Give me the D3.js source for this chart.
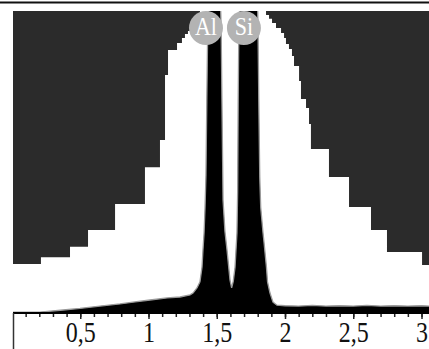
<!DOCTYPE html>
<html>
<head>
<meta charset="utf-8">
<script src="https://cdn.jsdelivr.net/npm/d3@7"></script>
<style>
  html, body { margin: 0; padding: 0; background: #fff; }
  svg { display: block; }
  text { font-family: "Liberation Serif", "Times New Roman", serif; }
</style>
</head>
<body>
<svg id="chart" width="429" height="349"></svg>
<script>
// Energy axis, keV
const xTickValues = [0.5, 1, 1.5, 2, 2.5, 3];
const xMinorTicks = d3.range(1, 31).map(i => i / 10);

// Stepped background envelope: bin edges (keV) and relative heights
const stepEdges = [0, 0.212, 0.425, 0.557, 0.755, 0.974, 1.084, 1.121, 1.143, 1.209,
  1.245, 1.267, 1.289, 1.326, 1.348, 1.377, 1.861, 1.883, 1.905, 1.934, 1.971,
  1.993, 2.007, 2.029, 2.051, 2.066, 2.103, 2.117, 2.154, 2.176, 2.190, 2.322,
  2.469, 2.630, 2.747, 3.004, 3.06];
const stepHeights = [16.2, 18.5, 21.9, 27.5, 36.1, 48.3, 57.3, 78.8, 87.1, 89.4,
  91.1, 92.4, 93.4, 94.7, 97.7, 104, 98.7, 97.4, 96.0, 94.4, 92.7, 91.1, 89.1,
  87.4, 85.1, 81.8, 76.8, 70.9, 67.9, 62.6, 54.3, 45.0, 35.1, 27.5, 20.2, 15.9];

// EDS spectrum: energy (keV) and relative counts
const specEnergy = [0, 0.205, 0.374, 0.498, 0.645, 0.791, 0.886, 1.011, 1.136, 1.231,
  1.304, 1.326, 1.355, 1.377, 1.392, 1.399, 1.407, 1.414, 1.421, 1.427, 1.434,
  1.452, 1.486, 1.518, 1.532, 1.538, 1.543, 1.546, 1.560, 1.575, 1.597, 1.609,
  1.621, 1.634, 1.648, 1.653, 1.657, 1.662, 1.690, 1.740, 1.790, 1.802, 1.808,
  1.815, 1.822, 1.839, 1.846, 1.864, 1.872, 1.890, 1.912, 1.941, 2.0, 2.1, 2.2,
  2.3, 2.4, 2.5, 2.6, 2.7, 2.8, 2.9, 3.0, 3.06];
const specCounts = [0.3, 0.3, 1.0, 1.5, 2.3, 3.0, 3.6, 4.3, 5.0, 5.3,
  6.0, 6.6, 8.3, 10.3, 15.2, 20.9, 26.5, 34.8, 45.7, 70, 95,
  118, 132, 118, 95, 70, 50, 37.4, 27, 20.9, 10.9, 8.3,
  10.5, 15.2, 26.5, 40, 70, 95, 125, 140, 125, 95, 70,
  45, 35, 26.5, 23.5, 15.2, 10.3, 6.6, 3.6, 2.6, 2.4, 2.3, 2.5,
  2.3, 2.4, 2.3, 2.5, 2.3, 2.4, 2.3, 2.4, 2.3];

// Element markers
const peakLabels = ["Al", "Si"];
const peakLabelEnergy = [1.421, 1.699];

const svg = d3.select("#chart");
const plot = { left: 13, right: 429, top: 11, bottom: 313 };
const serif = '"Liberation Serif", "Times New Roman", serif';

const x = d3.scaleLinear().domain([0, 3.06]).range([12, 429.7]);
const y = d3.scaleLinear().domain([0, 100]).range([plot.bottom, plot.top]);

const locale = d3.formatLocale({ decimal: ",", thousands: " ", grouping: [3], currency: ["", ""] });
const fmt = locale.format("~g");

svg.append("defs").append("clipPath").attr("id", "plot-clip")
  .append("rect")
  .attr("x", plot.left).attr("y", plot.top)
  .attr("width", plot.right - plot.left).attr("height", plot.bottom - plot.top);

// top rule
svg.append("line")
  .attr("x1", 0).attr("x2", 429).attr("y1", 2.5).attr("y2", 2.5)
  .attr("stroke", "#111").attr("stroke-width", 2);

const g = svg.append("g").attr("clip-path", "url(#plot-clip)");

// dark field
g.append("rect")
  .attr("x", plot.left).attr("y", plot.top)
  .attr("width", plot.right - plot.left).attr("height", plot.bottom - plot.top)
  .attr("fill", "#2b2b2b");

// stepped envelope
const steps = stepHeights.map((h, i) => ({ e: stepEdges[i], h }));
steps.push({ e: stepEdges[stepEdges.length - 1], h: stepHeights[stepHeights.length - 1] });
g.append("path")
  .datum(steps)
  .attr("fill", "#ffffff")
  .attr("d", d3.area().curve(d3.curveStepAfter)
    .x(d => x(d.e)).y0(y(0)).y1(d => y(d.h)));

// spectrum
const spec = specEnergy.map((e, i) => ({ e, c: specCounts[i] }));
g.append("path")
  .datum(spec)
  .attr("fill", "#000")
  .attr("d", d3.area().x(d => x(d.e)).y0(y(0)).y1(d => y(d.c)));
g.append("path")
  .datum(spec)
  .attr("fill", "none")
  .attr("stroke", "#9a9a9a")
  .attr("stroke-width", 1.3)
  .attr("d", d3.line().x(d => x(d.e)).y(d => y(d.c)));

// axis: minor ticks
const minorAxis = svg.append("g")
  .attr("transform", `translate(0,${plot.bottom})`)
  .call(d3.axisBottom(x).tickValues(xMinorTicks).tickSize(4).tickSizeOuter(0).tickFormat(""));
minorAxis.select(".domain").remove();
minorAxis.selectAll(".tick line").attr("stroke", "#222").attr("stroke-width", 1.5);

// axis: major ticks with labels (glyphs drawn slightly tall)
const majorAxis = svg.append("g")
  .attr("transform", `translate(0,${plot.bottom})`)
  .call(d3.axisBottom(x).tickValues(xTickValues).tickSize(6).tickSizeOuter(0).tickFormat(fmt));
majorAxis.select(".domain").remove();
majorAxis.selectAll(".tick line").attr("stroke", "#222").attr("stroke-width", 1.5);
majorAxis.selectAll(".tick text")
  .attr("y", 0).attr("dy", null)
  .attr("transform", "translate(0,29) scale(1,1.22)")
  .attr("fill", "#111")
  .style("font-family", serif)
  .style("font-size", "24px");

// axis line and left frame
svg.append("line")
  .attr("x1", plot.left).attr("x2", plot.right)
  .attr("y1", plot.bottom).attr("y2", plot.bottom)
  .attr("stroke", "#000").attr("stroke-width", 2.2);
svg.append("line")
  .attr("x1", plot.left + 0.5).attr("x2", plot.left + 0.5)
  .attr("y1", plot.bottom).attr("y2", 349)
  .attr("stroke", "#333").attr("stroke-width", 1.5);

// element markers
const marks = svg.append("g").selectAll("g")
  .data(peakLabels.map((t, i) => ({ t, e: peakLabelEnergy[i] })))
  .join("g")
  .attr("transform", d => `translate(${x(d.e)},28)`);
marks.append("circle").attr("r", 17).attr("fill", "#b3b3b3");
marks.append("text")
  .attr("text-anchor", "middle")
  .attr("transform", "translate(0,7) scale(1,1.15)")
  .attr("fill", "#fff")
  .style("font-family", serif)
  .style("font-size", "22px")
  .text(d => d.t);
</script>
</body>
</html>
